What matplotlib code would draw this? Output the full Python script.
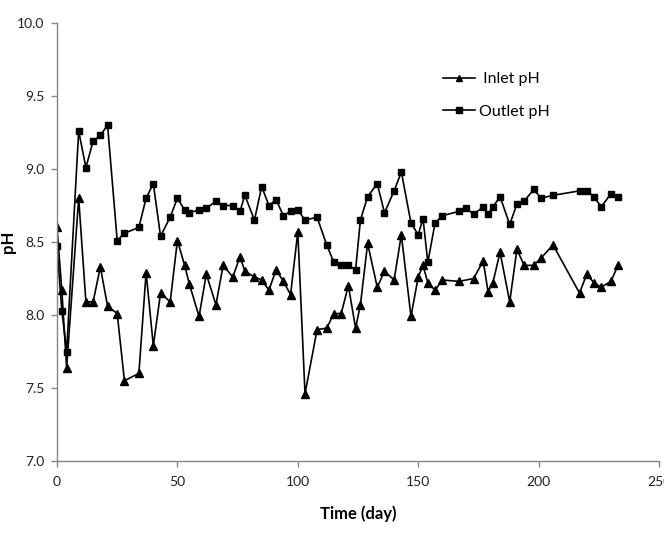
import matplotlib
matplotlib.use('Agg')
import matplotlib.pyplot as plt

plt.rcParams['font.family'] = ['Lato', 'DejaVu Sans']

# sampling days (inlet has no reading on day 170)
days_in = [0, 2, 4, 9, 12, 15, 18, 21, 25, 28, 34, 37, 40, 43, 47, 50, 53, 55, 59, 62,
           66, 69, 73, 76, 78, 82, 85, 88, 91, 94, 97, 100, 103, 108, 112, 115, 118, 121, 124, 126,
           129, 133, 136, 140, 143, 147, 150, 152, 154, 157, 160, 167, 173, 177, 179, 181, 184, 188, 191, 194,
           198, 201, 206, 217, 220, 223, 226, 230, 233]
inlet_ph = [8.60, 8.17, 7.64, 8.80, 8.09, 8.09, 8.33, 8.06, 8.01, 7.55,
            7.60, 8.29, 7.79, 8.15, 8.09, 8.51, 8.34, 8.21, 7.99, 8.28,
            8.07, 8.34, 8.26, 8.40, 8.30, 8.26, 8.24, 8.17, 8.31, 8.23,
            8.14, 8.57, 7.46, 7.90, 7.91, 8.01, 8.01, 8.20, 7.91, 8.07,
            8.49, 8.19, 8.30, 8.24, 8.55, 7.99, 8.26, 8.34, 8.22, 8.17,
            8.24, 8.23, 8.25, 8.37, 8.16, 8.22, 8.43, 8.09, 8.45, 8.34,
            8.34, 8.39, 8.48, 8.15, 8.28, 8.22, 8.19, 8.23, 8.34]

days_out = [0, 2, 4, 9, 12, 15, 18, 21, 25, 28, 34, 37, 40, 43, 47, 50, 53, 55, 59, 62,
            66, 69, 73, 76, 78, 82, 85, 88, 91, 94, 97, 100, 103, 108, 112, 115, 118, 121, 124, 126,
            129, 133, 136, 140, 143, 147, 150, 152, 154, 157, 160, 167, 170, 173, 177, 179, 181, 184, 188, 191,
            194, 198, 201, 206, 217, 220, 223, 226, 230, 233]
outlet_ph = [8.47, 8.03, 7.75, 9.26, 9.01, 9.19, 9.23, 9.30, 8.51, 8.56,
             8.60, 8.80, 8.90, 8.54, 8.67, 8.80, 8.72, 8.70, 8.72, 8.73,
             8.78, 8.75, 8.75, 8.71, 8.82, 8.65, 8.88, 8.75, 8.79, 8.68,
             8.71, 8.72, 8.65, 8.67, 8.48, 8.36, 8.34, 8.34, 8.31, 8.65,
             8.81, 8.90, 8.70, 8.85, 8.98, 8.63, 8.55, 8.66, 8.36, 8.63,
             8.68, 8.71, 8.73, 8.69, 8.74, 8.69, 8.74, 8.81, 8.62, 8.76,
             8.78, 8.86, 8.80, 8.82, 8.85, 8.85, 8.81, 8.74, 8.83, 8.81]

xticks = [0, 50, 100, 150, 200, 250]
yticks = [7.0, 7.5, 8.0, 8.5, 9.0, 9.5, 10.0]

fig = plt.figure(figsize=(6.64, 5.39), dpi=100)
ax = fig.add_axes([57/664, 1 - 461/539, (659 - 57)/664, (461 - 23)/539])

ax.plot(days_in, inlet_ph, color='black', lw=1.2, marker='^', ms=5.5, label=' Inlet pH')
ax.plot(days_out, outlet_ph, color='black', lw=1.2, marker='s', ms=5, label='Outlet pH')

ax.set_xlim(0, 250)
ax.set_ylim(7.0, 10.0)
ax.set_xticks(xticks)
ax.set_xticklabels([str(t) for t in xticks])
ax.set_yticks(yticks)
ax.set_yticklabels(['{:.1f}'.format(t) for t in yticks])

grey = '#868686'
for s in ['top', 'right']:
    ax.spines[s].set_visible(False)
for s in ['left', 'bottom']:
    ax.spines[s].set_color(grey)
    ax.spines[s].set_linewidth(1.0)
ax.tick_params(direction='out', length=4, width=1.0, color=grey, labelsize=10,
               labelcolor='#222222', pad=5)
ax.tick_params(axis='x', pad=7)

ax.set_xlabel('Time (day)', fontsize=12, fontweight='bold', labelpad=12)
ax.set_ylabel('pH', fontsize=12, fontweight='bold', labelpad=1)

ax.legend(loc='upper left', bbox_to_anchor=(443/664, 1 - 72/539), bbox_transform=fig.transFigure,
          frameon=False, fontsize=11.5, handlelength=2.0, handletextpad=0.25,
          labelspacing=1.15, borderpad=0, borderaxespad=0, markerscale=0.75)

plt.savefig('out.png', dpi=100)
